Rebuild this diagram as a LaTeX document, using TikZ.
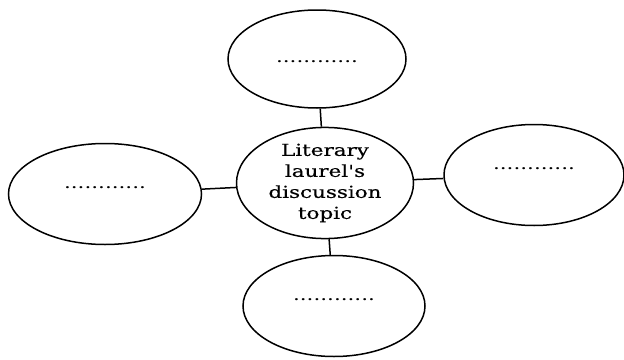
\documentclass[tikz,border=0pt]{standalone}
\usepackage{fontspec}
\setmainfont[FakeStretch=1.3]{DejaVu Serif}
\newfontfamily\hubfont[FakeStretch=1.3,FakeBold=0.4]{DejaVu Serif}
\newfontfamily\dotfont[FakeStretch=1.3]{DejaVu Serif}
\usetikzlibrary{shapes.geometric}
\begin{document}
\begin{tikzpicture}[x=1pt,y=-1pt,
  bubble/.style={ellipse,draw,line width=1.5pt,inner sep=0pt,font=\dotfont\fontsize{16.5}{16}\selectfont,text height=1pt,text depth=13pt},
  hub/.style={ellipse,draw,line width=1.5pt,inner sep=0pt,align=center,font=\hubfont\fontsize{16.5}{21}\selectfont},
  link/.style={line width=1.5pt}]
\useasboundingbox (0,0) rectangle (624,359);
\node[hub,minimum width=177pt,minimum height=97pt] (hub) at (325,183) {Literary\\laurel's\\discussion\\topic};
\node[bubble,minimum width=178pt,minimum height=98pt,text height=7pt,text depth=0pt] (top) at (317,59) {............};
\node[bubble,minimum width=193pt,minimum height=101pt] (left) at (105,194) {............};
\node[bubble,minimum width=180pt,minimum height=101pt] (right) at (534,175) {............};
\node[bubble,minimum width=182pt,minimum height=101pt] (bottom) at (334,306) {............};
\draw[link] (top) -- (hub);
\draw[link] (left) -- (hub);
\draw[link] (right) -- (hub);
\draw[link] (bottom) -- (hub);
\end{tikzpicture}
\end{document}
